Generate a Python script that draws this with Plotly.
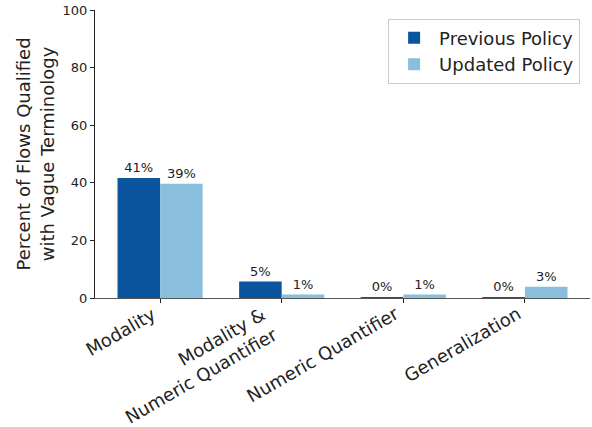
import plotly.graph_objects as go

categories = ["Modality", "Modality &<br>Numeric Quantifier", "Numeric Quantifier", "Generalization"]
previous_policy = [41.7, 5.7, 0.2, 0.2]
updated_policy = [39.7, 1.2, 1.2, 3.9]
previous_labels = ["41%", "5%", "0%", "0%"]
updated_labels = ["39%", "1%", "1%", "3%"]
y_ticks = [0, 20, 40, 60, 80, 100]

FONT = "DejaVu Sans"
x_idx = list(range(len(categories)))

fig = go.Figure()
fig.add_trace(go.Bar(
    x=x_idx, y=previous_policy, name="Previous Policy",
    marker=dict(color="#0b559f", line=dict(width=0)),
    text=previous_labels, textposition="outside", cliponaxis=False,
    textfont=dict(family=FONT, size=13, color="#222222"),
))
fig.add_trace(go.Bar(
    x=x_idx, y=updated_policy, name="Updated Policy",
    marker=dict(color="#89bedc", line=dict(width=0)),
    text=updated_labels, textposition="outside", cliponaxis=False,
    textfont=dict(family=FONT, size=13, color="#222222"),
))

# Category labels rotated like matplotlib (right/top anchored rotated box)
for i, label in zip(x_idx, categories):
    fig.add_annotation(
        x=i, xref="x", y=0, yref="paper",
        text=label, showarrow=False, textangle=-30,
        xanchor="right", yanchor="top", align="right",
        xshift=2, yshift=-2,
        font=dict(family=FONT, size=18, color="#222222"),
    )

fig.update_layout(
    width=592, height=427,
    margin=dict(l=95, r=2, t=10, b=129),
    paper_bgcolor="white", plot_bgcolor="white",
    barmode="group", bargap=0.3, bargroupgap=0,
    font=dict(family=FONT, color="#222222"),
    legend=dict(
        x=0.98, y=0.97, xanchor="right", yanchor="top",
        bgcolor="white", bordercolor="#cccccc", borderwidth=1,
        font=dict(family=FONT, size=18, color="#222222"),
        itemwidth=40,
    ),
    xaxis=dict(
        tickmode="array", tickvals=x_idx, showticklabels=False,
        range=[-0.535, 3.535], automargin=False,
        showline=True, linecolor="#555555", linewidth=1.2,
        ticks="outside", ticklen=4, tickcolor="#222222",
        showgrid=False, zeroline=False,
    ),
    yaxis=dict(
        range=[0, 100], tickvals=y_ticks, automargin=False,
        tickfont=dict(family=FONT, size=13, color="#222222"),
        showline=True, linecolor="#222222", linewidth=1.2,
        ticks="outside", ticklen=4, tickcolor="#222222",
        showgrid=False, zeroline=False,
        title=dict(text="Percent of Flows Qualified<br>with Vague Terminology",
                   font=dict(family=FONT, size=18, color="#222222"), standoff=3),
    ),
)

fig.write_html("out.html", config={"displayModeBar": False},
               post_script="document.body.style.margin='0px';")
